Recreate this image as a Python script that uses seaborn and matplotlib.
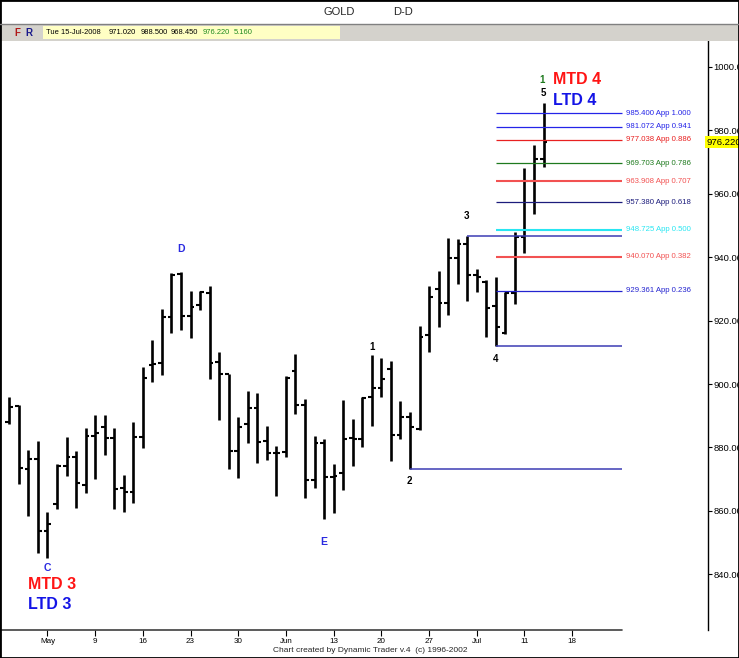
import matplotlib
matplotlib.use("Agg")
import matplotlib.pyplot as plt
from matplotlib.patches import Rectangle
from matplotlib.lines import Line2D
import seaborn as sns
import numpy as np
import pandas as pd

# -------------------------------------------------------------------
# GOLD diário (D-D) – barras OHLC, abr/jul 2008
# -------------------------------------------------------------------

opens = [888.1, 893.2, 873.1, 876.2, 853.7, 862.1, 874.1, 876.9, 868.1, 883.6,
         886.5, 882.9, 867.3, 866.0, 883.4, 906.0, 906.5, 921.2, 934.8, 921.5,
         924.9, 928.6, 907.0, 903.1, 879.0, 887.4, 892.3, 882.1, 878.1, 878.5,
         904.2, 893.4, 869.7, 881.3, 870.8, 872.0, 883.1, 882.6, 895.8, 898.6,
         904.6, 883.9, 889.7, 885.7, 915.5, 929.9, 925.5, 939.8, 944.2, 934.4,
         932.3, 924.7, 916.2, 928.8, 946.5, 964.1, 971.02]
highs = [896.0, 893.4, 879.2, 882.0, 859.5, 874.8, 883.2, 878.9, 886.0, 890.2,
         890.2, 886.0, 871.3, 888.1, 905.3, 913.9, 923.6, 934.9, 935.4, 929.3,
         929.3, 930.9, 910.2, 903.2, 889.7, 897.9, 897.1, 886.8, 880.4, 902.5,
         909.4, 895.3, 883.6, 882.6, 874.8, 895.0, 888.9, 895.8, 909.1, 908.1,
         907.4, 894.6, 891.3, 918.3, 930.9, 935.6, 946.2, 945.7, 946.65, 936.3,
         932.8, 933.7, 928.9, 948.0, 968.0, 975.4, 988.5]
lows = [887.3, 868.5, 858.5, 846.6, 845.0, 860.5, 871.0, 860.8, 865.5, 870.0,
        877.6, 860.5, 859.7, 862.4, 879.9, 900.5, 902.8, 916.2, 917.0, 914.6,
        923.3, 901.5, 888.6, 873.1, 870.3, 881.3, 875.2, 876.0, 864.7, 877.1,
        890.5, 864.1, 867.3, 857.3, 859.4, 866.6, 874.1, 880.0, 886.8, 896.0,
        875.7, 882.6, 873.25, 885.5, 910.2, 917.9, 921.8, 931.4, 926.2, 928.9,
        914.9, 912.05, 915.8, 925.1, 941.4, 953.5, 968.45]
closes = [892.8, 873.4, 876.2, 853.7, 855.8, 874.1, 876.9, 868.7, 883.6, 884.4,
          882.9, 866.9, 866.0, 883.4, 901.8, 906.3, 921.2, 934.5, 921.5, 924.4,
          929.0, 906.7, 903.1, 879.0, 886.5, 892.3, 881.8, 878.1, 878.3, 902.0,
          893.4, 869.7, 881.5, 870.6, 871.0, 882.7, 882.6, 895.6, 898.6, 901.5,
          883.9, 889.7, 886.3, 914.9, 927.5, 925.6, 939.8, 944.2, 934.4, 933.8,
          923.9, 917.9, 928.7, 946.5, 964.1, 971.02, 976.22]
dates = pd.bdate_range("2008-04-28", "2008-07-15")

tick_dates = ["2008-05-02", "2008-05-09", "2008-05-16", "2008-05-23", "2008-05-30",
              "2008-06-06", "2008-06-13", "2008-06-20", "2008-06-27", "2008-07-04",
              "2008-07-11", "2008-07-18"]
tick_labels = ["May", "9", "16", "23", "30", "Jun", "13", "20", "27", "Jul", "11", "18"]

# níveis de aproximação (App) medidos a partir do ponto 4
fib_levels = [985.400, 981.072, 977.038, 969.703, 963.908, 957.380, 948.725, 940.070, 929.361]
fib_ratios = [1.000, 0.941, 0.886, 0.786, 0.707, 0.618, 0.500, 0.382, 0.236]
fib_colors = ["#2424e8", "#2424e8", "#e82020", "#1e7a1e", "#f25252",
              "#1c1c7c", "#28e6f2", "#f25252", "#2424d0"]
fib_widths = [0.9, 0.9, 0.9, 0.9, 1.5, 0.9, 1.5, 1.5, 0.9]

swing_names = ["2", "3", "4"]
swing_dates = ["2008-06-25", "2008-07-03", "2008-07-08"]
swing_prices = [873.25, 946.65, 912.05]

df = pd.DataFrame({"data": dates, "open": opens, "high": highs, "low": lows, "close": closes})
df["x"] = np.arange(len(df))

start = np.datetime64("2008-04-28")
def pos(d):
    return np.busday_count(start, np.datetime64(d))

sns.set_theme(style="white")
plt.rcParams["font.family"] = ["Liberation Sans", "DejaVu Sans"]

fig = plt.figure(figsize=(7.39, 6.58), dpi=100)
fig.patch.set_facecolor("white")
ax = fig.add_axes([0, 28 / 658, 708 / 739, 589 / 658])
ax.set_facecolor("white")

# barras OHLC
ax.vlines(df["x"], df["low"], df["high"], color="black", lw=1.9)
ax.hlines(df["open"], df["x"] - 0.4, df["x"], color="black", lw=1.5)
ax.hlines(df["close"], df["x"], df["x"] + 0.4, color="black", lw=1.5)

x_end = 64.2
for lvl, r, c, w in zip(fib_levels, fib_ratios, fib_colors, fib_widths):
    ax.hlines(lvl, pos("2008-07-08"), x_end, color=c, lw=w)
    ax.text(x_end + 0.4, lvl, f"{lvl:.3f} App {r:.3f}", color=c, fontsize=5.6,
            va="center", ha="left")

for nm, d, p in zip(swing_names, swing_dates, swing_prices):
    ax.hlines(p, pos(d), x_end, color="#3c3cb4", lw=1.1)

# rótulos das ondas
ax.text(3.95, 842.0, "C", color="#2a2ae0", fontsize=7.5, weight="bold", ha="center", va="center")
ax.text(18.0, 942.6, "D", color="#2a2ae0", fontsize=7.5, weight="bold", ha="center", va="center")
ax.text(33.0, 850.2, "E", color="#2a2ae0", fontsize=7.5, weight="bold", ha="center", va="center")
for t, xi, yi in [("1", 38.0, 911.7), ("2", 41.9, 869.4), ("3", 47.9, 953.0),
                  ("4", 51.0, 907.9), ("5", 56.0, 991.8)]:
    ax.text(xi, yi, t, color="black", fontsize=7, weight="bold", ha="center", va="center")
ax.text(55.8, 995.9, "1", color="#1e7a1e", fontsize=7, weight="bold", ha="center", va="center")

ax.text(2.0, 836.9, "MTD 3", color="#ff1414", fontsize=11.5, weight="bold", ha="left", va="center")
ax.text(2.0, 830.4, "LTD 3", color="#1414e6", fontsize=11.5, weight="bold", ha="left", va="center")
ax.text(57.0, 995.9, "MTD 4", color="#ff1414", fontsize=11.5, weight="bold", ha="left", va="center")
ax.text(57.0, 989.3, "LTD 4", color="#1414e6", fontsize=11.5, weight="bold", ha="left", va="center")

ax.set_xlim(-0.975, 73.24)
ax.set_ylim(822.4, 1008.2)

ax.set_xticks([pos(d) for d in tick_dates])
ax.set_xticklabels(tick_labels)
ax.tick_params(axis="x", direction="out", length=4, width=0.8, pad=2, labelsize=5.8,
               bottom=True, colors="black")
ax.yaxis.tick_right()
ax.set_yticks(np.arange(840, 1001, 20))
ax.set_yticklabels([f"{v:.3f}" for v in np.arange(840, 1001, 20)])
ax.tick_params(axis="y", direction="out", length=3, width=0.8, pad=1, labelsize=6.8,
               right=True, colors="black")

for s in ["top", "left", "bottom"]:
    ax.spines[s].set_visible(False)
ax.spines["right"].set_color("black")
ax.spines["right"].set_linewidth(1)
ax.add_line(Line2D([0, 622 / 708], [0, 0], transform=ax.transAxes, color="#404040",
                   lw=1.2, clip_on=False))

# último preço destacado no eixo
ax.text(0.998, closes[-1], f"{closes[-1]:.3f}", transform=ax.get_yaxis_transform(),
        fontsize=6.8, ha="left", va="center", color="black",
        bbox=dict(boxstyle="square,pad=0.15", fc="#ffff00", ec="none"))

# cabeçalho
H = 658.0
W = 739.0
fig.patches.append(Rectangle((0, 1 - 41 / H), 1, 17 / H, transform=fig.transFigure,
                             fc="#d4d2cc", ec="none", zorder=0))
fig.add_artist(Line2D([0, 1], [1 - 24 / H, 1 - 24 / H], transform=fig.transFigure,
                      color="#808080", lw=1))
fig.patches.append(Rectangle((43 / W, 1 - 39 / H), 297 / W, 13 / H, transform=fig.transFigure,
                             fc="#ffffc4", ec="none", zorder=1))
fig.text(339 / W, 1 - 12 / H, "GOLD", fontsize=8, ha="center", va="center")
fig.text(403 / W, 1 - 12 / H, "D-D", fontsize=8, ha="center", va="center")
fig.text(17 / W, 1 - 33 / H, "F", fontsize=7, weight="bold", color="#b01818", ha="center", va="center")
fig.text(29 / W, 1 - 33 / H, "R", fontsize=7, weight="bold", color="#1a1a8c", ha="center", va="center")
header = [("Tue 15-Jul-2008", 46, "black"), ("971.020", 109, "black"), ("988.500", 141, "black"),
          ("968.450", 171, "black"), ("976.220", 203, "#1e8a1e"), ("5.160", 234, "#1e8a1e")]
for t, xp, c in header:
    fig.text(xp / W, 1 - 33 / H, t, fontsize=5.4, color=c, ha="left", va="center")

fig.text(370 / W, 1 - 650 / H, "Chart created by Dynamic Trader v.4  (c) 1996-2002",
         fontsize=6, ha="center", va="center")

fig.patches.append(Rectangle((0, 0), 1, 1, transform=fig.transFigure, fill=False,
                             ec="black", lw=2))

plt.savefig("out.png", dpi=100)
